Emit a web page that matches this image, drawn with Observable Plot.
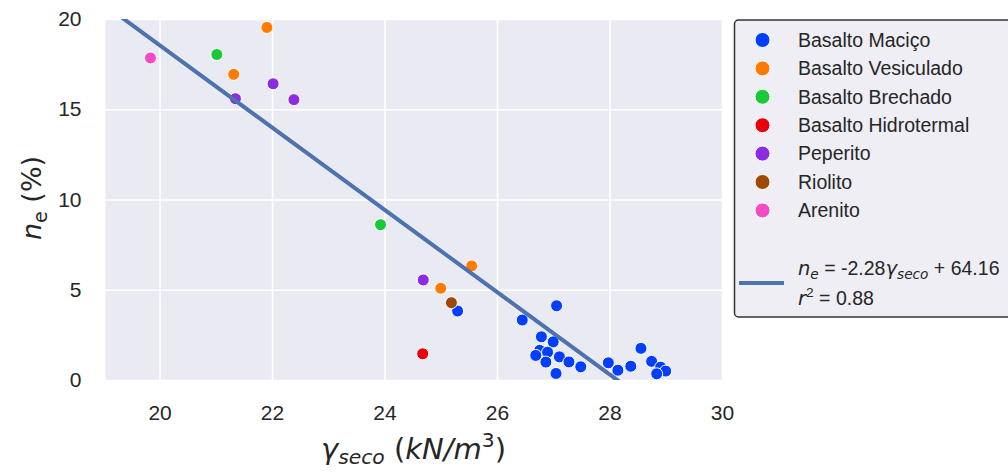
<!DOCTYPE html>
<html>
<head>
<meta charset="utf-8">
<script src="https://cdn.jsdelivr.net/npm/d3@7"></script>
<script src="https://cdn.jsdelivr.net/npm/@observablehq/plot@0.6"></script>
<style>
  html, body { margin: 0; padding: 0; background: #ffffff; }
  #chart { width: 1008px; height: 472px; overflow: hidden; }
</style>
</head>
<body>
<div id="chart"></div>
<script>
// ---- Data ----
const categories = ["Basalto Maciço", "Basalto Vesiculado", "Basalto Brechado", "Basalto Hidrotermal", "Peperito", "Riolito", "Arenito"];
const palette = ["#023eff", "#ff7c00", "#1ac938", "#e8000b", "#8b2be2", "#9f4800", "#f14cc1"];

const macicoX = [25.29, 27.05, 26.44, 26.78, 26.99, 26.75, 26.89, 26.68, 27.10, 26.86, 27.27, 27.48, 27.04, 27.97, 28.14, 28.37, 28.55, 28.74, 28.90, 28.99, 28.83];
const macicoY = [3.85, 4.14, 3.35, 2.42, 2.14, 1.67, 1.57, 1.39, 1.31, 1.02, 1.03, 0.76, 0.39, 0.98, 0.57, 0.79, 1.78, 1.06, 0.74, 0.52, 0.37];
const vesiculadoX = [21.90, 21.31, 25.54, 24.99];
const vesiculadoY = [19.56, 16.96, 6.35, 5.11];
const brechadoX = [21.01, 23.92];
const brechadoY = [18.06, 8.63];
const hidrotermalX = [24.67];
const hidrotermalY = [1.48];
const peperitoX = [22.01, 22.38, 21.34, 24.68];
const peperitoY = [16.44, 15.56, 15.61, 5.57];
const riolitoX = [25.18];
const riolitoY = [4.31];
const arenitoX = [19.83];
const arenitoY = [17.87];

const slope = -2.28;
const intercept = 64.16;
const r2 = "0.88";

const xTicks = [20, 22, 24, 26, 28, 30];
const yTicks = [0, 5, 10, 15, 20];
const xDomain = [19.03, 30];
const yDomain = [0, 20];

// ---- Build table ----
const seriesX = [macicoX, vesiculadoX, brechadoX, hidrotermalX, peperitoX, riolitoX, arenitoX];
const seriesY = [macicoY, vesiculadoY, brechadoY, hidrotermalY, peperitoY, riolitoY, arenitoY];
const points = [];
categories.forEach((c, i) => {
  seriesX[i].forEach((x, j) => points.push({x, y: seriesY[i][j], cat: c}));
});
const fitLine = xDomain.map(x => ({x, y: slope * x + intercept}));

const tickColor = "#262626";

const svg = Plot.plot({
  width: 1008,
  height: 472,
  marginLeft: 105,
  marginRight: 286,
  marginTop: 19,
  marginBottom: 92,
  x: {domain: xDomain},
  y: {domain: yDomain},
  color: {domain: categories, range: palette},
  style: {fontFamily: "'Liberation Sans', Arial, sans-serif", fontSize: "21px", color: tickColor, background: "#ffffff"},
  marks: [
    Plot.frame({fill: "#eaeaf2", stroke: "none"}),
    Plot.gridX(xTicks, {stroke: "#ffffff", strokeOpacity: 1, strokeWidth: 1.6}),
    Plot.gridY(yTicks, {stroke: "#ffffff", strokeOpacity: 1, strokeWidth: 1.6}),
    Plot.axisX({ticks: xTicks, tickSize: 0, tickPadding: 25, label: null, fill: tickColor}),
    Plot.axisY({ticks: yTicks, tickSize: 0, tickPadding: 24, label: null, fill: tickColor}),
    Plot.dot(points, {x: "x", y: "y", fill: "cat", stroke: "#ffffff", strokeWidth: 1, r: 6}),
    Plot.line(fitLine, {x: "x", y: "y", stroke: "#4c72b0", strokeWidth: 4, clip: true})
  ]
});
document.getElementById("chart").appendChild(svg);

const root = d3.select(svg);
const mathFont = "'DejaVu Sans', sans-serif";
const textFont = "'Liberation Sans', Arial, sans-serif";

// ---- X axis label: γseco (kN/m³) ----
const xl = root.append("text")
  .attr("x", 413.5).attr("y", 459)
  .attr("text-anchor", "middle")
  .attr("font-family", mathFont)
  .attr("font-size", 29)
  .attr("fill", tickColor);
xl.append("tspan").attr("font-style", "italic").text("γ");
xl.append("tspan").attr("font-style", "italic").attr("font-size", 20.3).attr("dy", 5).text("seco");
xl.append("tspan").attr("dy", -5).text(" (");
xl.append("tspan").attr("font-style", "italic").text("kN/m");
xl.append("tspan").attr("font-size", 20.3).attr("dy", -12).text("3");
xl.append("tspan").attr("dy", 12).text(")");

// ---- Y axis label: ne (%) ----
const yl = root.append("text")
  .attr("transform", "translate(41,198) rotate(-90)")
  .attr("text-anchor", "middle")
  .attr("font-family", mathFont)
  .attr("font-size", 27)
  .attr("fill", tickColor);
yl.append("tspan").attr("font-style", "italic").text("n");
yl.append("tspan").attr("font-size", 19).attr("dy", 6).text("e");
yl.append("tspan").attr("dy", -6).text(" (%)");

// ---- Legend ----
const lg = root.append("g").attr("text-anchor", "start");
lg.append("rect")
  .attr("x", 734.5).attr("y", 20).attr("width", 290).attr("height", 297)
  .attr("rx", 4).attr("ry", 4)
  .attr("fill", "#eeeef4").attr("stroke", "#333333").attr("stroke-width", 1.5);
const rowY0 = 40, rowStep = 28.4;
categories.forEach((c, i) => {
  const yy = rowY0 + i * rowStep;
  lg.append("circle").attr("cx", 762.5).attr("cy", yy).attr("r", 7.5)
    .attr("fill", palette[i]).attr("stroke", "#ffffff").attr("stroke-width", 1);
  lg.append("text").attr("x", 798).attr("y", yy).attr("dy", "0.35em")
    .attr("text-anchor", "start")
    .attr("font-family", textFont).attr("font-size", 19.5).attr("fill", tickColor)
    .text(c);
});
lg.append("line").attr("x1", 739).attr("x2", 784).attr("y1", 283).attr("y2", 283)
  .attr("stroke", "#4c72b0").attr("stroke-width", 4);
const eq = lg.append("text").attr("x", 798).attr("y", 275)
  .attr("text-anchor", "start")
  .attr("font-family", textFont).attr("font-size", 19.5).attr("fill", tickColor);
eq.append("tspan").attr("font-family", mathFont).attr("font-style", "italic").text("n");
eq.append("tspan").attr("font-family", mathFont).attr("font-style", "italic").attr("font-size", 13.7).attr("dy", 4).text("e");
eq.append("tspan").attr("dy", -4).text(" = " + slope.toFixed(2));
eq.append("tspan").attr("font-family", mathFont).attr("font-style", "italic").text("γ");
eq.append("tspan").attr("font-family", mathFont).attr("font-style", "italic").attr("font-size", 13.7).attr("dy", 4).text("seco");
eq.append("tspan").attr("dy", -4).text(" + " + intercept.toFixed(2));
const rr = lg.append("text").attr("x", 798).attr("y", 305)
  .attr("text-anchor", "start")
  .attr("font-family", textFont).attr("font-size", 19.5).attr("fill", tickColor);
rr.append("tspan").attr("font-family", mathFont).attr("font-style", "italic").text("r");
rr.append("tspan").attr("font-size", 13.7).attr("dy", -8).text("2");
rr.append("tspan").attr("dy", 8).text(" = " + r2);
</script>
</body>
</html>
